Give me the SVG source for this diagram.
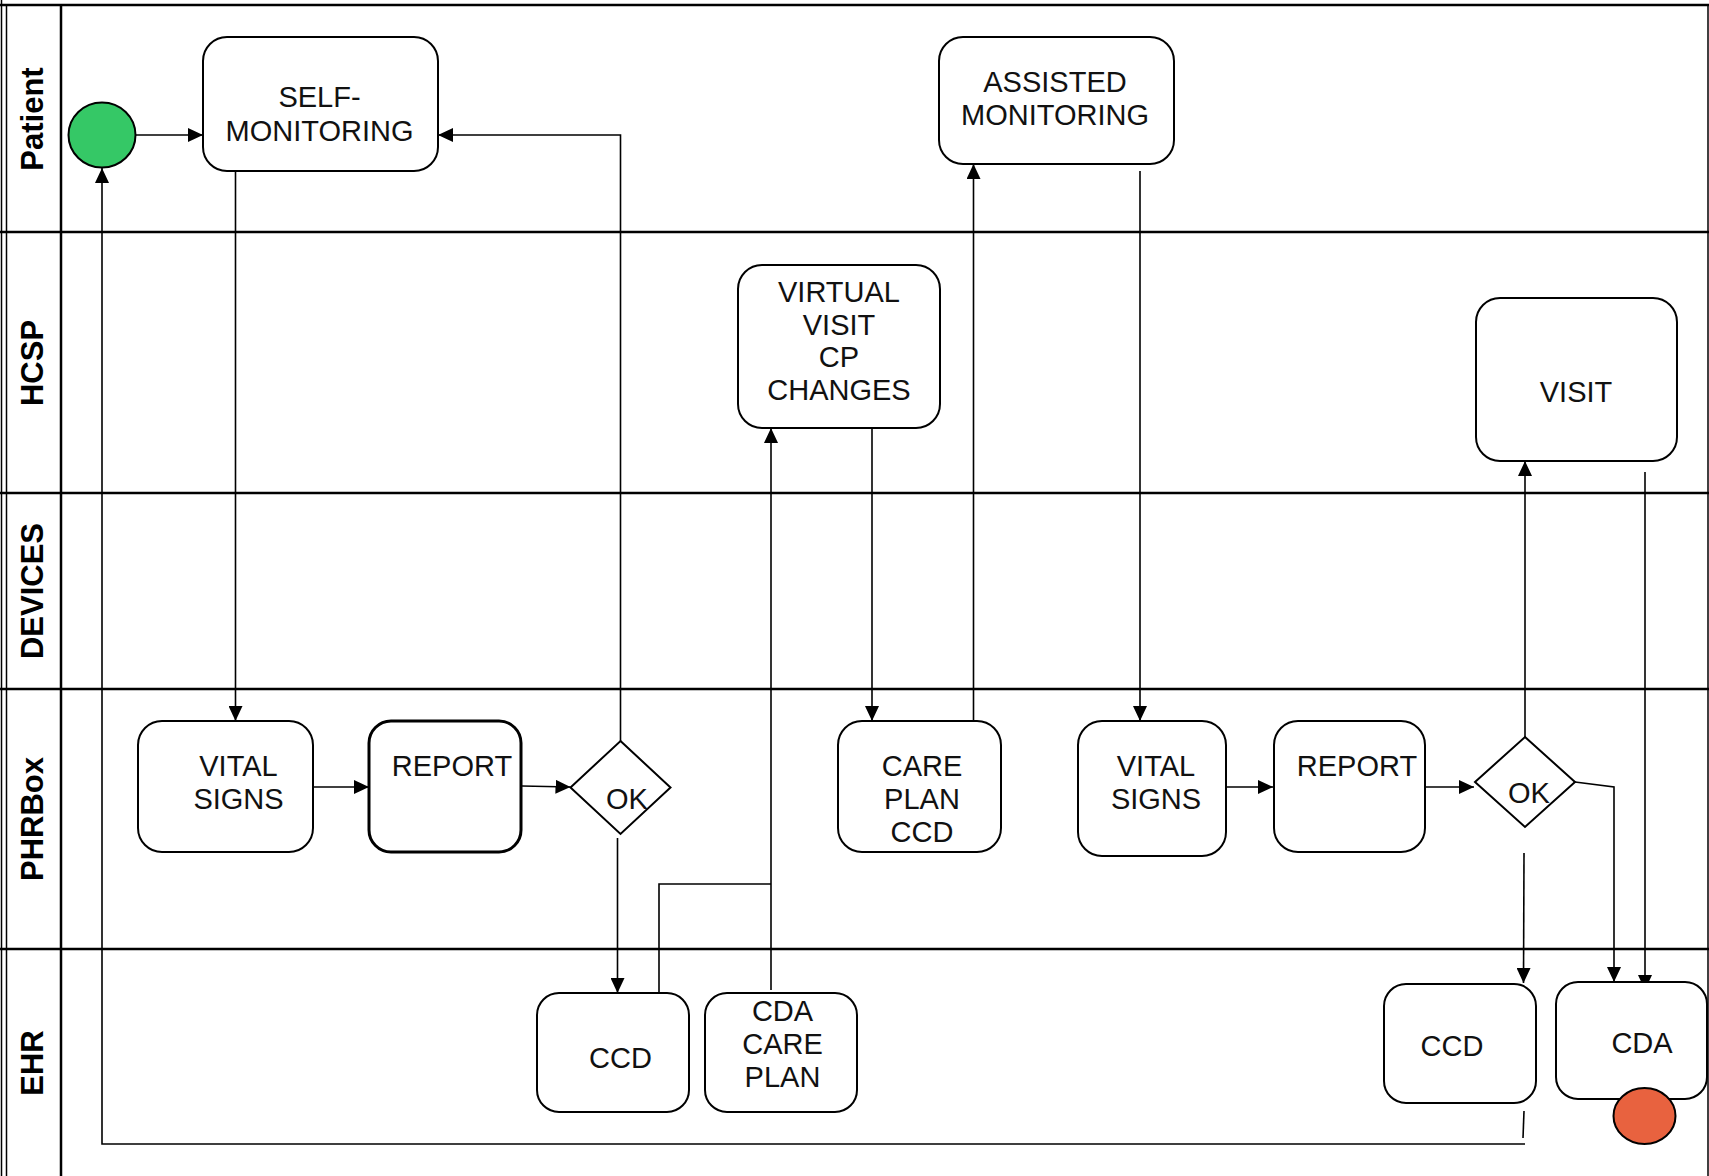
<svg xmlns="http://www.w3.org/2000/svg" width="1709" height="1176" viewBox="0 0 1709 1176">
<style>
  .lane { stroke:#000; stroke-width:2.5; fill:none; }
  .thin { stroke:#000; stroke-width:1.5; fill:none; }
  .hdr { font-family:"Liberation Sans", Arial, sans-serif; font-weight:bold; font-size:31px; text-anchor:middle; fill:#000; }
  .box { fill:#fff; stroke:#000; stroke-width:2; }
  .boxb { fill:#fff; stroke:#000; stroke-width:3; }
  .t { font-family:"Liberation Sans", Arial, sans-serif; font-size:29px; text-anchor:middle; fill:#111; }
  .c { stroke:#000; stroke-width:1.6; fill:none; }
  .ca { stroke:#000; stroke-width:1.6; fill:none; marker-end:url(#ah); }
</style>
<defs>
  <marker id="ah" markerUnits="userSpaceOnUse" markerWidth="15" markerHeight="14" refX="15" refY="7" orient="auto">
    <path d="M0,0 L15,7 L0,14 z" fill="#000"/>
  </marker>
</defs>
<rect x="0" y="0" width="1709" height="1176" fill="#fff"/>

<g id="lanes">
  <line class="thin" x1="1.5" y1="0" x2="1.5" y2="1176"/>
  <line class="thin" x1="6.5" y1="5" x2="6.5" y2="1176"/>
  <line class="lane" x1="61" y1="5" x2="61" y2="1176" stroke-width="3"/>
  <line class="thin" x1="1708" y1="5" x2="1708" y2="1176"/>
  <line class="lane" x1="0" y1="5" x2="1709" y2="5"/>
  <line class="lane" x1="0" y1="232" x2="1709" y2="232"/>
  <line class="lane" x1="0" y1="493" x2="1709" y2="493"/>
  <line class="lane" x1="0" y1="689" x2="1709" y2="689"/>
  <line class="lane" x1="0" y1="949" x2="1709" y2="949"/>
  <text class="hdr" transform="translate(43,119) rotate(-90)">Patient</text>
  <text class="hdr" transform="translate(43,363) rotate(-90)">HCSP</text>
  <text class="hdr" transform="translate(43,591) rotate(-90)">DEVICES</text>
  <text class="hdr" transform="translate(43,819) rotate(-90)">PHRBox</text>
  <text class="hdr" transform="translate(43,1063) rotate(-90)">EHR</text>
</g>

<g id="connectors">
  <path class="ca" d="M135.5,135 L203,135"/>
  <path class="ca" d="M235.5,171 L235.5,721"/>
  <path class="ca" d="M313,787 L369,787"/>
  <path class="ca" d="M522,786 L570.5,787"/>
  <path class="ca" d="M620.5,741 L620.5,135 L438,135"/>
  <path class="ca" d="M617.5,838 L617.5,993"/>
  <path class="c" d="M659,993 L659,884 L771,884"/>
  <path class="ca" d="M771,990 L771,428"/>
  <path class="ca" d="M872,428 L872,721"/>
  <path class="ca" d="M973.5,721 L973.5,164"/>
  <path class="ca" d="M1140,171 L1140,721"/>
  <path class="ca" d="M1226,787 L1273,787"/>
  <path class="ca" d="M1425,787 L1474,787"/>
  <path class="ca" d="M1525,737 L1525,461"/>
  <path class="ca" d="M1575,782 L1614,787 L1614,982"/>
  <path class="ca" d="M1645,472 L1645,990"/>
  <path class="ca" d="M1524,853 L1523.5,983"/>
  <path class="c" d="M1524,1111 L1523,1138"/>
  <path class="ca" d="M1525,1144 L102,1144 L102,168"/>
</g>

<g id="start">
  <ellipse cx="102" cy="135" rx="33.5" ry="32.5" fill="#35C866" stroke="#000" stroke-width="2"/>
</g>

<g id="self-monitoring">
  <rect class="box" x="203" y="37" width="235" height="134" rx="24"/>
  <text class="t" x="319.5" y="107">SELF-</text>
  <text class="t" x="319.5" y="141">MONITORING</text>
</g>

<g id="assisted-monitoring">
  <rect class="box" x="939" y="37" width="235" height="127" rx="24"/>
  <text class="t" x="1055" y="92">ASSISTED</text>
  <text class="t" x="1055" y="125">MONITORING</text>
</g>

<g id="virtual-visit">
  <rect class="box" x="738" y="265" width="202" height="163" rx="24"/>
  <text class="t" x="839" y="302">VIRTUAL</text>
  <text class="t" x="839" y="335">VISIT</text>
  <text class="t" x="839" y="367">CP</text>
  <text class="t" x="839" y="400">CHANGES</text>
</g>

<g id="visit">
  <rect class="box" x="1476" y="298" width="201" height="163" rx="24"/>
  <text class="t" x="1576" y="402">VISIT</text>
</g>

<g id="vital-signs-1">
  <rect class="box" x="138" y="721" width="175" height="131" rx="24"/>
  <text class="t" x="238.5" y="776">VITAL</text>
  <text class="t" x="238.5" y="809">SIGNS</text>
</g>

<g id="report-1">
  <rect class="boxb" x="369" y="721" width="152" height="131" rx="22"/>
  <text class="t" x="452" y="776">REPORT</text>
</g>

<g id="ok-1">
  <polygon class="box" points="620.5,741 670.5,787.5 620.5,834 570.5,787.5"/>
  <text class="t" x="627" y="809">OK</text>
</g>

<g id="care-plan-ccd">
  <rect class="box" x="838" y="721" width="163" height="131" rx="24"/>
  <text class="t" x="922" y="776">CARE</text>
  <text class="t" x="922" y="809">PLAN</text>
  <text class="t" x="922" y="842">CCD</text>
</g>

<g id="vital-signs-2">
  <rect class="box" x="1078" y="721" width="148" height="135" rx="24"/>
  <text class="t" x="1156" y="776">VITAL</text>
  <text class="t" x="1156" y="809">SIGNS</text>
</g>

<g id="report-2">
  <rect class="box" x="1274" y="721" width="151" height="131" rx="24"/>
  <text class="t" x="1357" y="776">REPORT</text>
</g>

<g id="ok-2">
  <polygon class="box" points="1525,737 1575,782 1525,827 1475,782"/>
  <text class="t" x="1529" y="803">OK</text>
</g>

<g id="ccd-1">
  <rect class="box" x="537" y="993" width="152" height="119" rx="22"/>
  <text class="t" x="620.5" y="1068">CCD</text>
</g>

<g id="cda-care-plan">
  <rect class="box" x="705" y="993" width="152" height="119" rx="22"/>
  <text class="t" x="782.5" y="1021">CDA</text>
  <text class="t" x="782.5" y="1054">CARE</text>
  <text class="t" x="782.5" y="1087">PLAN</text>
</g>

<g id="ccd-2">
  <rect class="box" x="1384" y="984" width="152" height="119" rx="22"/>
  <text class="t" x="1452" y="1056">CCD</text>
</g>

<g id="cda">
  <rect class="box" x="1556" y="982" width="151" height="117" rx="22"/>
  <text class="t" x="1642" y="1053">CDA</text>
</g>

<g id="end">
  <ellipse cx="1644.5" cy="1116" rx="31" ry="28" fill="#E8623F" stroke="#000" stroke-width="2"/>
</g>
</svg>
